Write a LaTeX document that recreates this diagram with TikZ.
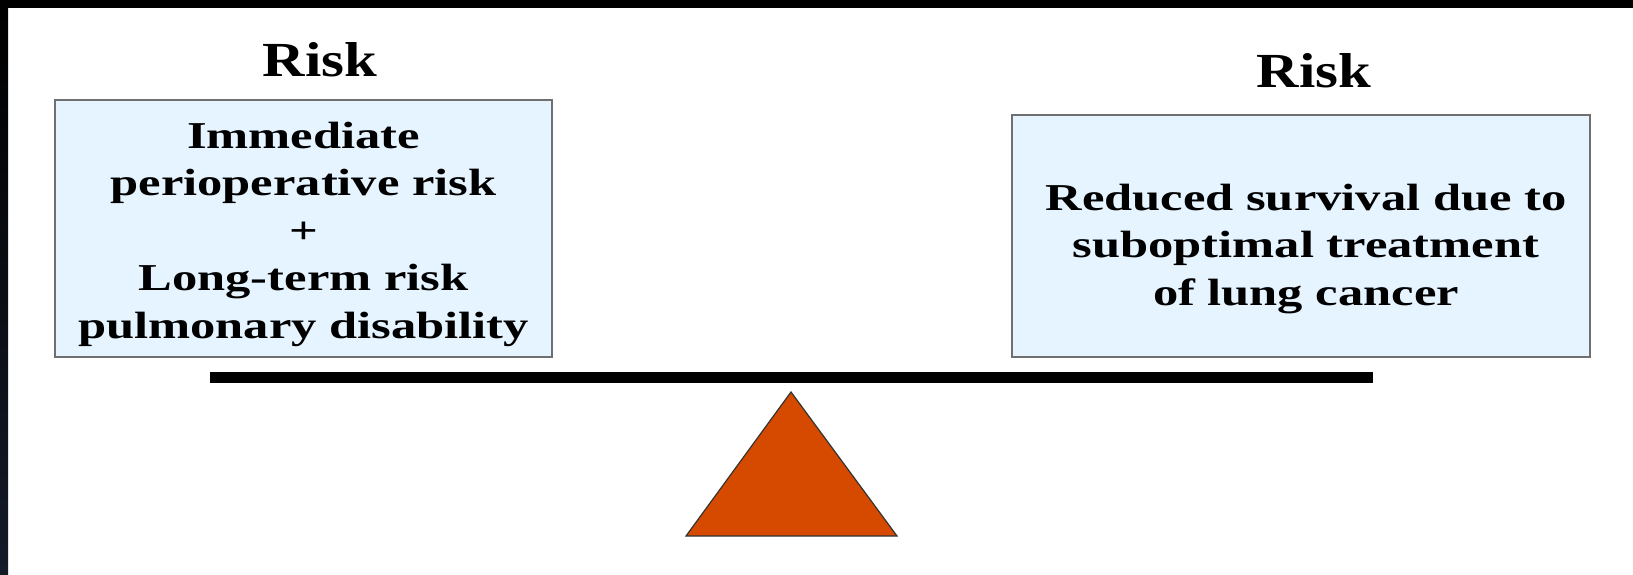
\documentclass[tikz,border=0pt]{standalone}
\usepackage{fontspec}
\setmainfont{Liberation Serif}
\usepackage{graphicx}
\definecolor{boxfill}{RGB}{230,244,255}
\definecolor{boxline}{RGB}{112,112,112}
\definecolor{fulcrum}{RGB}{214,74,0}
\definecolor{edgenavy}{RGB}{20,26,40}
\tikzset{
  riskbox/.style={draw=boxline, line width=2.5pt, fill=boxfill, rectangle, inner sep=0pt},
  boxtext/.style={inner sep=0pt, anchor=center, font=\bfseries\fontsize{38}{47.5}\selectfont},
  risklabel/.style={inner sep=0pt, anchor=base, font=\bfseries\fontsize{49}{55}\selectfont},
  beam/.style={line width=11pt},
}
\begin{document}
\begin{tikzpicture}[x=1pt,y=-1pt]
\useasboundingbox (0,0) rectangle (1633,575);
\fill[white] (0,0) rectangle (1633,575);
% frame edges
\fill[black] (0,0) rectangle (1633,8);
\shade[top color=black, bottom color=edgenavy] (0,8) rectangle (8,575);
\fill[black] (0,0) rectangle (8,10);
% labels
\node[risklabel] (riskL) at (320,77) {\scalebox{1.2}[1]{Risk}};
\node[risklabel] (riskR) at (1314,88) {\scalebox{1.2}[1]{Risk}};
% boxes
\node[riskbox, minimum width=497pt, minimum height=257pt] (lbox) at (303.5,228.5) {};
\node[riskbox, minimum width=578pt, minimum height=242pt] (rbox) at (1301,236) {};
\node[boxtext] (ltext) at (303.5,233.5) {\scalebox{1.33}[1]{\begin{tabular}{@{}c@{}}Immediate\\ perioperative risk\\ +\\ Long-term risk\\ pulmonary disability\end{tabular}}};
\node[boxtext] (rtext) at (1306,248) {\scalebox{1.33}[1]{\begin{tabular}{@{}c@{}}Reduced survival due to\\ suboptimal treatment\\ of lung cancer\end{tabular}}};
% beam
\coordinate (beamL) at (210,377.5);
\coordinate (beamR) at (1373,377.5);
\draw[beam] (beamL) -- (beamR);
% fulcrum
\draw[fill=fulcrum, draw=black!80, line width=1.2pt, line join=miter] (791,392) -- (686,536) -- (897,536) -- cycle;
\end{tikzpicture}
\end{document}
